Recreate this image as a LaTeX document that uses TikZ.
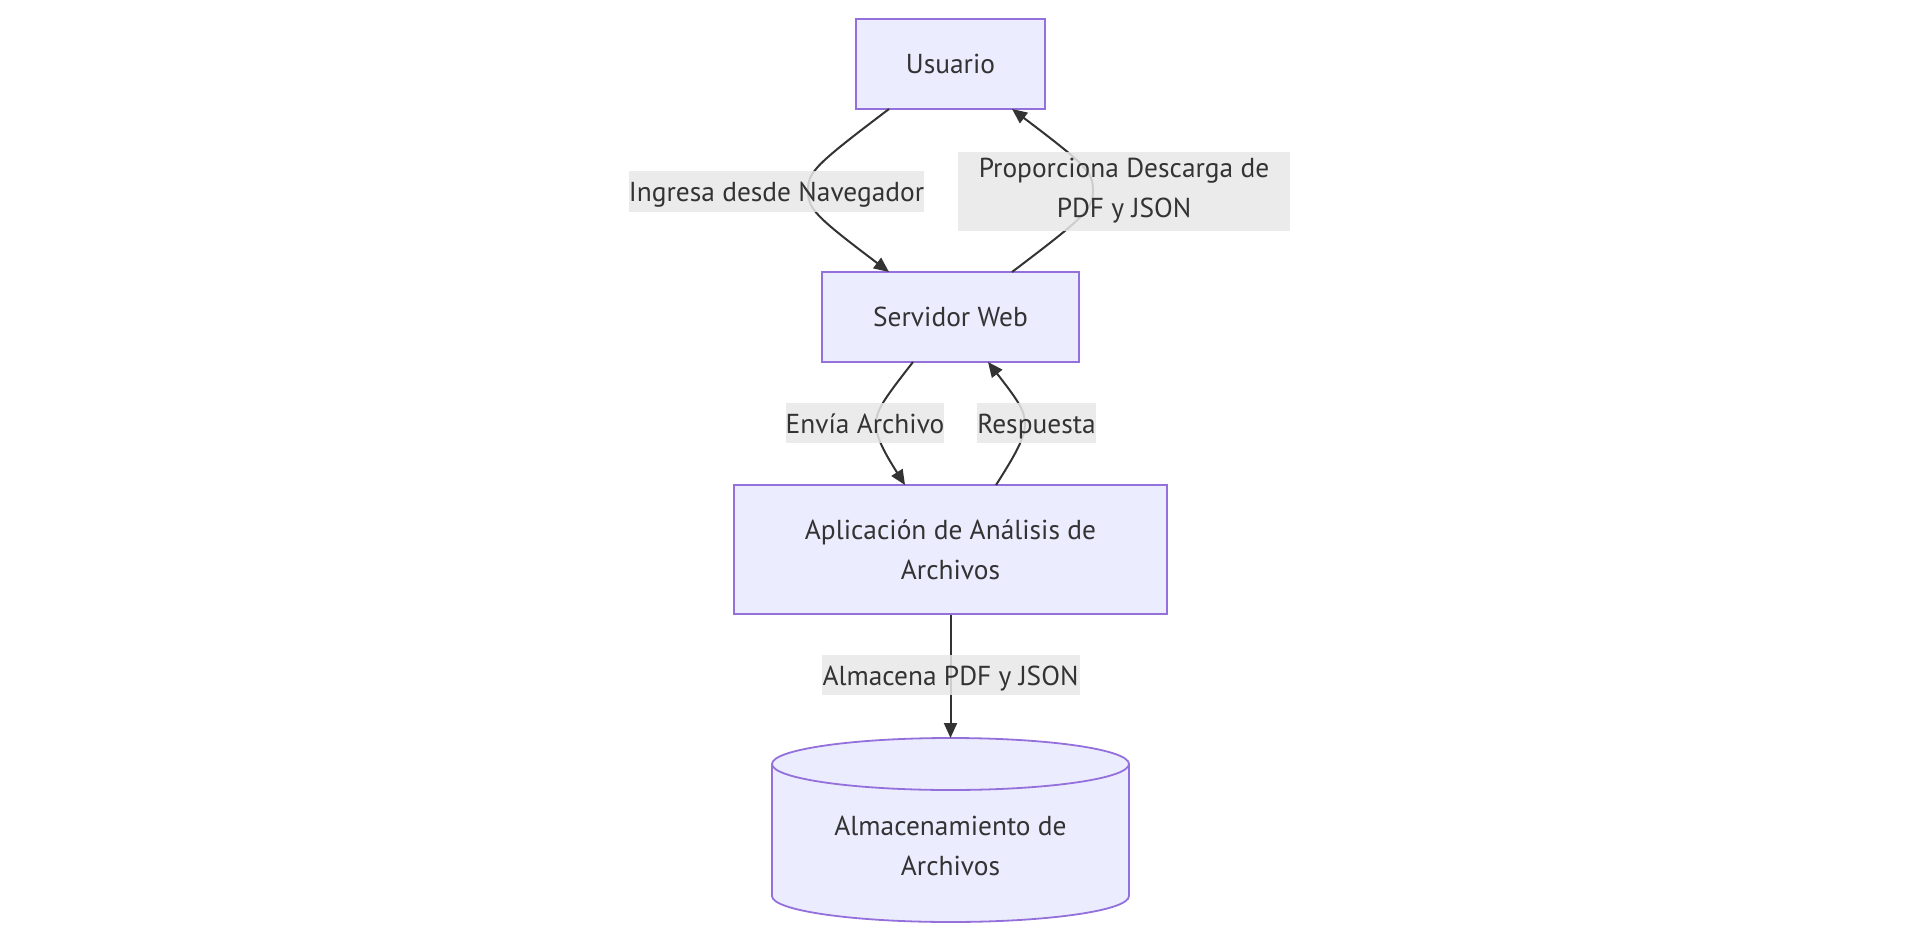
\documentclass[tikz,border=0pt]{standalone}
\usepackage{fontspec}
\setmainfont{PT Sans}
\usetikzlibrary{arrows.meta}
\definecolor{nodefill}{HTML}{ECECFF}
\definecolor{nodeline}{HTML}{9370DB}
\definecolor{edgecol}{HTML}{333333}
\definecolor{lblfill}{HTML}{E8E8E8}
\definecolor{txt}{HTML}{333333}
\tikzset{
  box/.style={draw=nodeline, fill=nodefill, line width=1.8pt, text=txt, inner sep=0pt, align=center},
  lbl/.style={fill=lblfill, fill opacity=0.85, text opacity=1, text=txt, inner sep=0pt, align=center},
  onelbl/.style={lbl, text height=25pt, text depth=5pt},
  conn/.style={draw=edgecol, line width=2pt, -{Triangle[length=15pt,width=13pt]}},
  every node/.style={font=\fontsize{27.4}{40}\selectfont}
}
\begin{document}
\begin{tikzpicture}[x=1pt,y=-1pt]
\useasboundingbox (0,0) rectangle (1919,934);
% nodes
\node[box, minimum width=189pt, minimum height=90pt] (usuario) at (950.5,64) {Usuario};
\node[box, minimum width=257pt, minimum height=90pt] (servidor) at (950.5,317) {Servidor Web};
\node[box, minimum width=433pt, minimum height=129pt] (app) at (950.5,549.5) {Aplicación de Análisis de\\Archivos};
% cylinder
\path[draw=nodeline, fill=nodefill, line width=1.8pt]
  (772,764) -- (772,896) arc[start angle=180, end angle=360, x radius=178.5pt, y radius=26pt]
  -- (1129,764) arc[start angle=0, end angle=180, x radius=178.5pt, y radius=26pt] -- cycle;
\draw[draw=nodeline, line width=1.8pt] (772,764) arc[start angle=180, end angle=360, x radius=178.5pt, y radius=26pt];
\node[text=txt, align=center, inner sep=0pt] (store) at (950.5,846) {Almacenamiento de\\Archivos};
\coordinate (storetop) at (950.5,738);
% anchor points on boxes
\coordinate (u1) at (889,109);
\coordinate (u2) at (1012,109);
\coordinate (s1) at (889,272);
\coordinate (s2) at (1012,272);
\coordinate (s3) at (913,362);
\coordinate (s4) at (988,362);
\coordinate (a1) at (905,485);
\coordinate (a2) at (996,485);
% edges
\draw[conn] (u1) .. controls (815,165) and (808,172) .. (808,190.5) .. controls (808,209) and (815,216) .. (s1);
\draw[conn] (s2) .. controls (1086,216) and (1093,209) .. (1093,190.5) .. controls (1093,172) and (1086,165) .. (u2);
\draw[conn] (s3) .. controls (885,398) and (876,410) .. (876,423.5) .. controls (876,437) and (884,452) .. (a1);
\draw[conn] (a2) .. controls (1017,452) and (1025,437) .. (1025,423.5) .. controls (1025,410) and (1016,398) .. (s4);
\draw[conn] (app.south) -- (storetop);
% edge labels
\node[onelbl, minimum width=295pt, minimum height=41pt] (l1) at (776.5,191) {Ingresa desde Navegador};
\node[lbl, minimum width=332pt, minimum height=79pt] (l2) at (1124,191) {Proporciona Descarga de\\PDF y JSON};
\node[onelbl, minimum width=158pt, minimum height=40pt] (l3) at (865,423) {Envía Archivo};
\node[onelbl, minimum width=117pt, minimum height=40pt] (l4) at (1036.5,423) {Respuesta};
\node[onelbl, minimum width=258pt, minimum height=40pt] (l5) at (950.5,675) {Almacena PDF y JSON};
\end{tikzpicture}
\end{document}
